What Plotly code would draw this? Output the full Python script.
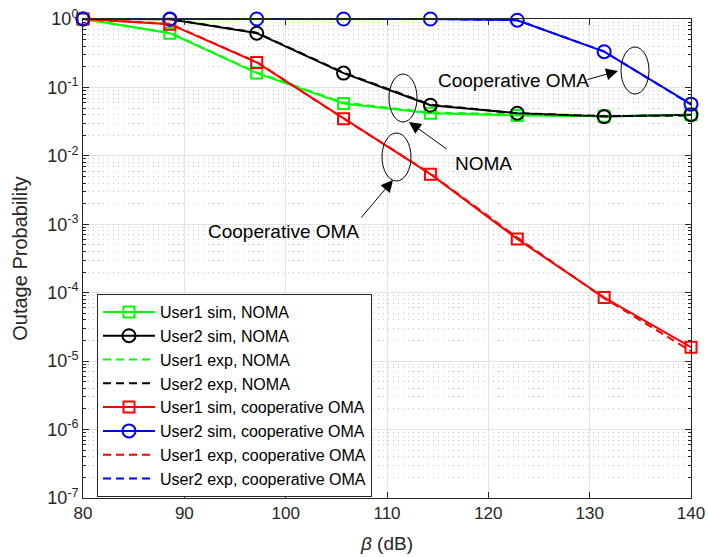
import plotly.graph_objects as go

beta_db = [80, 88.571, 97.143, 105.714, 114.286, 122.857, 131.429, 140]

u1_noma_sim = [1.0, 0.62, 0.162, 0.058, 0.042, 0.039, 0.038, 0.040]
u2_noma_sim = [1.0, 0.99, 0.62, 0.162, 0.055, 0.042, 0.0375, 0.040]
u1_noma_exp = [1.0, 0.63, 0.165, 0.060, 0.043, 0.040, 0.038, 0.039]
u2_noma_exp = [1.0, 1.0, 0.63, 0.165, 0.056, 0.042, 0.038, 0.039]
u1_oma_sim = [1.0, 0.84, 0.232, 0.035, 0.0054, 6.1e-4, 8.5e-5, 1.6e-5]
u2_oma_sim = [1.0, 1.0, 1.0, 1.0, 1.0, 0.96, 0.333, 0.057]
u1_oma_exp = [1.0, 0.85, 0.235, 0.035, 0.0055, 6.4e-4, 8.3e-5, 1.4e-5]
u2_oma_exp = [1.0, 1.0, 1.0, 1.0, 1.0, 0.96, 0.335, 0.056]

y_tick_vals = [1e-7, 1e-6, 1e-5, 1e-4, 1e-3, 1e-2, 1e-1, 1]
y_tick_text = ["10<sup>-7</sup>", "10<sup>-6</sup>", "10<sup>-5</sup>", "10<sup>-4</sup>",
               "10<sup>-3</sup>", "10<sup>-2</sup>", "10<sup>-1</sup>", "10<sup>0</sup>"]
x_tick_vals = [80, 90, 100, 110, 120, 130, 140]

GREEN, BLACK, RED, BLUE = "#00ff00", "#000000", "#ff0000", "#0000ff"
DASH = "8px,5px"

fig = go.Figure()

def sim(y, name, color, symbol, size):
    fig.add_trace(go.Scatter(
        x=beta_db, y=y, name=name, mode="lines+markers",
        line=dict(color=color, width=2),
        marker=dict(symbol=symbol, size=size, color=color,
                    line=dict(color=color, width=2)),
        cliponaxis=False))

def exp(y, name, color):
    fig.add_trace(go.Scatter(
        x=beta_db, y=y, name=name, mode="lines",
        line=dict(color=color, width=2, dash=DASH)))

sim(u1_noma_sim, "User1 sim, NOMA", GREEN, "square-open", 11)
sim(u2_noma_sim, "User2 sim, NOMA", BLACK, "circle-open", 13)
exp(u1_noma_exp, "User1 exp, NOMA", GREEN)
exp(u2_noma_exp, "User2 exp, NOMA", BLACK)
sim(u1_oma_sim, "User1 sim, cooperative OMA", RED, "square-open", 11)
sim(u2_oma_sim, "User2 sim, cooperative OMA", BLUE, "circle-open", 13)
exp(u1_oma_exp, "User1 exp, cooperative OMA", RED)
exp(u2_oma_exp, "User2 exp, cooperative OMA", BLUE)

FONT = "Liberation Sans, Arial, sans-serif"

# plot area in px: x 83..691, y 19..498
def px2paper(px, py):
    return (px - 83) / 608.0, 1 - (py - 19) / 479.0

ellipses = [(621, 47, 649, 94), (389, 74, 417, 122), (382, 133, 411, 181)]
for (xa, ya, xb, yb) in ellipses:
    x0, y1 = px2paper(xa, ya)
    x1, y0 = px2paper(xb, yb)
    fig.add_shape(type="circle", xref="paper", yref="paper",
                  x0=x0, x1=x1, y0=y0, y1=y1, line=dict(color="black", width=1))

arrows = [((618, 71), (586, 80)), ((409, 122), (448, 150)), ((393, 180), (360, 219))]
for (tip, tail) in arrows:
    tx, ty = px2paper(*tip)
    fig.add_annotation(xref="paper", yref="paper", x=tx, y=ty, text="",
                       showarrow=True, arrowhead=2, arrowsize=2.4, arrowwidth=1,
                       arrowcolor="black", ax=tail[0] - tip[0], ay=tail[1] - tip[1])

texts = [("Cooperative OMA", 513, 81), ("NOMA", 483, 163), ("Cooperative OMA", 283, 231)]
for (t, px, py) in texts:
    xx, yy = px2paper(px, py)
    fig.add_annotation(xref="paper", yref="paper", x=xx, y=yy, text=t, showarrow=False,
                       xanchor="center", yanchor="middle",
                       font=dict(family=FONT, size=19, color="black"))

minor_vals = [m * 10.0 ** e for e in range(-7, 0) for m in range(2, 10)]

fig.update_layout(
    width=708, height=557,
    margin=dict(l=83, r=17, t=19, b=59, autoexpand=False),
    paper_bgcolor="white", plot_bgcolor="white",
    font=dict(family=FONT, size=17, color="#262626"),
    showlegend=True,
    legend=dict(x=(97 - 83) / 608.0, y=1 - (294 - 19) / 479.0, xanchor="left", yanchor="top",
                bgcolor="white", bordercolor="#262626", borderwidth=1,
                font=dict(family=FONT, size=16, color="black"),
                tracegroupgap=0, itemwidth=52),
    xaxis=dict(range=[80, 140], tickmode="array", tickvals=x_tick_vals,
               ticks="inside", ticklen=6, tickcolor="#262626", automargin=False,
               showline=True, linecolor="#262626", linewidth=1, mirror="ticks",
               showgrid=True, gridcolor="#e3e3e3", gridwidth=1, zeroline=False,
               tickfont=dict(size=17),
               title=dict(text="<i>β</i> (dB)", font=dict(size=19), standoff=14)),
    yaxis=dict(type="log", range=[-7, 0], tickmode="array", tickvals=y_tick_vals,
               ticktext=y_tick_text, ticks="inside", ticklen=6, tickcolor="#262626",
               automargin=False,
               showline=True, linecolor="#262626", linewidth=1, mirror="ticks",
               showgrid=True, gridcolor="#e3e3e3", gridwidth=1, zeroline=False,
               tickfont=dict(size=18),
               minor=dict(tickmode="array", tickvals=minor_vals, ticks="inside", ticklen=3,
                          tickcolor="#262626", showgrid=True, gridcolor="#c8c8c8",
                          griddash="1px,4px", gridwidth=1),
               title=dict(text="Outage Probability", font=dict(size=20), standoff=14)),
)

fig.write_html("out.html", config={"displayModeBar": False},
               post_script="document.body.style.margin='0px';")
